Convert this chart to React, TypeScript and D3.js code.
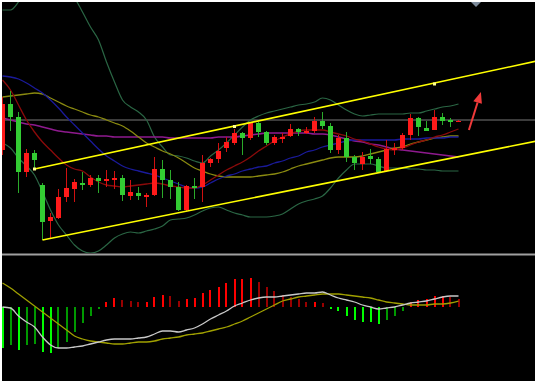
import React from 'react';
import * as d3 from 'd3';

const W = 537;
const H = 383;

// bar indices (the first bar is partly cut off on the left edge)
const barIndex = d3.range(-1, 57);

// OHLC (price units)
const openP = [150,196,183,128,147,115,79,82,103,111,117,115,122,119,120,122,104,107,104,105,131,120,113,90,114,113,137,141,152,157,167,162,177,168,157,162,164,171,167,169,179,174,150,162,143,136,144,141,129,151,152,165,182,172,170,183,180,179];
const highP = [203,209,188,151,150,117,87,111,132,121,128,125,125,130,129,125,120,113,107,143,140,130,118,115,122,145,142,157,163,171,168,178,178,169,165,167,176,172,173,183,188,177,165,168,145,148,151,143,160,157,167,186,183,179,190,187,182,180];
const lowP = [145,169,107,123,132,60,62,81,98,98,110,113,107,113,111,99,100,100,93,104,102,101,89,89,101,98,133,137,148,155,145,160,163,155,155,157,163,164,166,167,171,147,146,138,130,130,136,128,128,145,150,160,164,169,170,175,173,179];
const closeP = [196,183,128,147,140,78,83,103,112,118,115,122,119,121,122,105,108,104,105,131,120,113,90,114,112,137,141,149,158,167,162,177,168,157,163,163,171,168,169,179,174,150,162,143,137,143,141,128,151,152,165,182,173,169,183,179,178,179.5];

// Bollinger bands and moving averages
const bollUpper = [290,290,298,310,320,325,325,320,310,302,288,273,260,238,218,200,193,188,180,163,153,145,144,142,139,137,144,150,157,165,173,180,184,187,189,191,193,195,196,198,202,200,195,190,186,184,185,186,186,186,186,187,187,189,191,193,194,196];
const bollLower = [157,152,142,134,125,108,90,75,65,55,49,47,49,55,62,66,68,67,69,71,74,80,81,82,85,89,92,93,90,87,85,83,83,83,84,86,91,96,99,101,104,112,122,130,136,136,136,134,132,132,132,131,131,130,130,129,129,129];
const maOlive = [203,204,205,206,207,206,202,198,194,191,188,185,183,180,177,174,169,163,157,153,149,146,142,137,132,129,126,124,123,123,123,123,124,125,126,128,131,134,136,138,140,142,143,143,143,144,146,148,150,152,153,156,158,160,162,163,164,164];
const maBlue = [224,223,221,217,212,207,200,192,183,175,167,159,151,144,139,134,131,129,127,125,122,119,116,113,112,113,117,121,124,126,129,131,133,134,137,139,142,144,148,150,153,155,157,159,160,160,160,160,160,160,161,161,161,162,162,162,163,163];
const maPurple = [182,180,178,176,175,173,171,169,168,167,166,165,164,164,163,163,163,163,163,163,163,162,162,162,162,162,162,163,163,163,164,165,166,167,167,167,167,167,167,166,166,165,163,161,159,158,156,155,153,151,150,149,148,147,146,145,144,143];
const maRed = [220,210,195,180,168,158,150,142,135,131,129,123,118,115,114,113,114,115,116,117,116,114,113,112,112,115,120,125,130,134,138,143,149,154,159,163,166,169,170,170,170,168,166,164,161,159,156,153,151,150,152,155,158,160,163,165,168,171];

// MACD
const macdHist = [-4.1,-3.8,-4.3,-3.8,-3.7,-4.5,-4.6,-4.1,-3.5,-2.5,-1.6,-0.9,-0.2,0.5,0.9,0.7,0.6,0.5,0.5,1.0,1.2,1.1,0.6,0.8,0.9,1.4,1.7,2.0,2.4,2.8,2.8,2.9,2.5,2.0,1.6,1.2,1.0,0.8,0.5,0.5,0.4,-0.2,-0.4,-0.9,-1.3,-1.5,-1.5,-1.7,-1.3,-0.9,-0.4,0.5,0.7,0.8,1.1,1.1,1.0,0.8];
const macdDif = [0,-0.1,-0.9,-1.5,-2.0,-3.0,-3.8,-4.1,-4.1,-4.0,-3.9,-3.7,-3.5,-3.3,-3.2,-3.2,-3.2,-3.1,-3.0,-2.7,-2.4,-2.4,-2.5,-2.3,-2.1,-1.7,-1.2,-0.8,-0.4,0.1,0.4,0.7,0.9,1.0,1.0,1.1,1.2,1.3,1.4,1.4,1.5,1.2,0.9,0.7,0.5,0.2,0,-0.2,-0.1,0,0.2,0.4,0.5,0.6,0.8,1.0,1.1,1.1];
const macdDea = [2.4,1.9,1.3,0.7,0.1,-0.5,-1.1,-1.7,-2.3,-2.9,-3.2,-3.4,-3.5,-3.6,-3.7,-3.7,-3.6,-3.5,-3.5,-3.4,-3.2,-3.1,-3.0,-2.8,-2.7,-2.6,-2.4,-2.2,-2.0,-1.7,-1.4,-1.0,-0.6,-0.2,0.2,0.6,0.8,1.0,1.1,1.2,1.3,1.3,1.3,1.2,1.1,1.0,0.9,0.7,0.5,0.4,0.3,0.2,0.2,0.2,0.3,0.3,0.4,0.6];

// trend channel [barIndex, price]
const channelUpper = [[3, 131], [65.8, 239]];
const channelLower = [[4, 60], [65.8, 159]];
const channelDots = [[3, 131], [28, 173.5], [53, 216]];
const refPrice = 180;
const arrowFrom = [57.3, 170];
const arrowTo = [58.8, 208];

const UP = '#ff1a1a';
const DOWN = '#33cc33';

export default function App() {
  const x = d3.scaleLinear().domain([-1, 56]).range([2.5, 458.5]);
  const yMain = d3.scaleLinear().domain([48, 298]).range([252, 2]);
  const yMacd = d3.scaleLinear().domain([-7.4, 5.1]).range([381, 256]);

  const lineMain = d3.line<number>().x((_, i) => x(barIndex[i])).y((v) => yMain(v)).curve(d3.curveMonotoneX);
  const lineMacd = d3.line<number>().x((_, i) => x(barIndex[i])).y((v) => yMacd(v)).curve(d3.curveMonotoneX);

  const bodyW = 5;

  // arrow geometry
  const ax0 = x(arrowFrom[0]), ay0 = yMain(arrowFrom[1]);
  const ax1 = x(arrowTo[0]), ay1 = yMain(arrowTo[1]);
  const ang = Math.atan2(ay1 - ay0, ax1 - ax0);
  const headLen = 11, headW = 4.5;
  const bx = ax1 - headLen * Math.cos(ang), by = ay1 - headLen * Math.sin(ang);
  const px = -Math.sin(ang), py = Math.cos(ang);

  return (
    <svg width={W} height={H} style={{ position: 'absolute', left: 0, top: 0, background: '#ffffff' }}>
      <defs>
        <clipPath id="mainClip"><rect x={2} y={2} width={533} height={251} /></clipPath>
        <clipPath id="macdClip"><rect x={2} y={256} width={533} height={125} /></clipPath>
      </defs>
      <rect x={2} y={2} width={533} height={379} fill="#000" />

      {/* reference price line */}
      <line x1={2} x2={535} y1={yMain(refPrice)} y2={yMain(refPrice)} stroke="#3c3c3c" strokeWidth={2} />

      <g clipPath="url(#mainClip)">
        <path d={lineMain(bollUpper) || ''} fill="none" stroke="#2a6644" strokeWidth={1.2} />
        <path d={lineMain(bollLower) || ''} fill="none" stroke="#2a6644" strokeWidth={1.2} />
        <path d={lineMain(maPurple) || ''} fill="none" stroke="#8e1a8e" strokeWidth={1.6} />
        <path d={lineMain(maOlive) || ''} fill="none" stroke="#8a8a10" strokeWidth={1.3} />
        <path d={lineMain(maBlue) || ''} fill="none" stroke="#1a1a9a" strokeWidth={1.3} />
        <path d={lineMain(maRed) || ''} fill="none" stroke="#8b0a0a" strokeWidth={1.3} />

        {barIndex.map((k, i) => {
          const o = openP[i], c = closeP[i];
          const up = c >= o;
          const cx = x(k);
          const top = yMain(Math.max(o, c));
          const bot = yMain(Math.min(o, c));
          const col = up ? UP : DOWN;
          return (
            <g key={k} shapeRendering="crispEdges">
              <line x1={cx} x2={cx} y1={yMain(highP[i])} y2={yMain(lowP[i])} stroke={up ? '#d01010' : '#2aaa2a'} strokeWidth={1} />
              <rect x={cx - bodyW / 2} y={top} width={bodyW} height={Math.max(1.5, bot - top)} fill={col} />
            </g>
          );
        })}

        {/* channel */}
        <line x1={x(channelUpper[0][0])} y1={yMain(channelUpper[0][1])} x2={x(channelUpper[1][0])} y2={yMain(channelUpper[1][1])} stroke="#ffff00" strokeWidth={1.6} />
        <line x1={x(channelLower[0][0])} y1={yMain(channelLower[0][1])} x2={x(channelLower[1][0])} y2={yMain(channelLower[1][1])} stroke="#ffff00" strokeWidth={1.6} />
        {channelDots.map((d, i) => (
          <rect key={i} x={x(d[0]) - 1.5} y={yMain(d[1]) - 1.5} width={3} height={3} fill="#ffff90" />
        ))}

        {/* arrow */}
        <line x1={ax0} y1={ay0} x2={bx} y2={by} stroke="#f03a3a" strokeWidth={2} />
        <polygon
          points={`${ax1},${ay1} ${bx + px * headW},${by + py * headW} ${bx - px * headW},${by - py * headW}`}
          fill="#f03a3a"
        />
      </g>

      {/* top marker */}
      <polygon points="471,2 481,2 476,7" fill="#7c8a9a" />

      {/* panel separator */}
      <line x1={2} x2={535} y1={254.5} y2={254.5} stroke="#a0a0a0" strokeWidth={2} />

      <g clipPath="url(#macdClip)">
        {barIndex.map((k, i) => {
          const v = macdHist[i];
          const prev = i > 0 ? macdHist[i - 1] : v;
          const growing = Math.abs(v) >= Math.abs(prev) || Math.sign(v) !== Math.sign(prev);
          const col = v >= 0 ? (growing ? '#ff0000' : '#990000') : (growing ? '#00ff00' : '#009900');
          const y1 = yMacd(Math.max(0, v));
          const y2 = yMacd(Math.min(0, v));
          return <rect key={k} x={Math.round(x(k)) - 1} y={y1} width={2} height={Math.max(1, y2 - y1)} fill={col} shapeRendering="crispEdges" />;
        })}
        <path d={lineMacd(macdDea) || ''} fill="none" stroke="#a0a000" strokeWidth={1.3} />
        <path d={lineMacd(macdDif) || ''} fill="none" stroke="#c8c8c8" strokeWidth={1.3} />
      </g>
    </svg>
  );
}
